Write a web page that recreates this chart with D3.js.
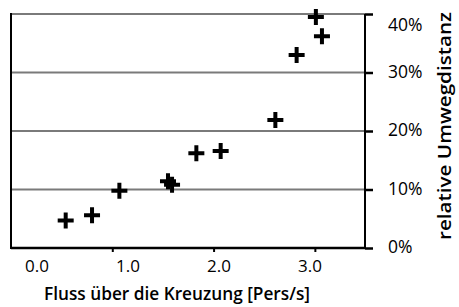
<!DOCTYPE html>
<html><head><meta charset="utf-8">
<script src="https://cdn.jsdelivr.net/npm/d3@7"></script>
<style>body{margin:0;background:#fff}text{font-family:"Open Sans",sans-serif;fill:#000}</style>
</head><body><svg id="c" width="459" height="307"></svg>
<script>
const flow = [0.54, 0.80, 1.07, 1.55, 1.59, 1.83, 2.07, 2.61, 2.82, 3.01, 3.07];
const detour = [4.7, 5.6, 9.8, 11.4, 10.8, 16.2, 16.6, 21.9, 33.0, 39.5, 36.2];
const xTicks = [0, 1, 2, 3];
const xTickLabels = ["0.0", "1.0", "2.0", "3.0"];
const yTicks = [0, 10, 20, 30, 40];
const yTickLabels = ["0%", "10%", "20%", "30%", "40%"];
const xTitle = "Fluss über die Kreuzung [Pers/s]";
const yTitle = "relative Umwegdistanz";

const svg = d3.select("#c");
const x = d3.scaleLinear().domain([0, 3.495]).range([11, 365]);
const xLab = d3.scaleLinear().domain([0, 3]).range([37, 310]);
const y = d3.scaleLinear().domain([0, 40]).range([248, 14]);

// gridlines
svg.append("g").selectAll("line").data(yTicks.filter(d => d > 0)).join("line")
  .attr("x1", 11).attr("x2", 365).attr("y1", d => y(d)).attr("y2", d => y(d))
  .attr("stroke", "#7a7a7a").attr("stroke-width", 2);

// left axis line
svg.append("line").attr("x1", 11).attr("x2", 11).attr("y1", y(40) - 1).attr("y2", y(0) + 1)
  .attr("stroke", "#000").attr("stroke-width", 2);

// bottom axis
const xa = svg.append("g").attr("transform", `translate(0,${y(0)})`)
  .call(d3.axisBottom(x).tickValues(xTicks.filter(d => d > 0)).tickSize(4).tickFormat(""));
xa.select(".domain").attr("stroke-width", 2.5).attr("d", `M${x(0)},0H${x.range()[1]}`);
xa.selectAll(".tick line").attr("stroke-width", 2);
svg.append("g").selectAll("text").data(xTicks).join("text")
  .attr("x", (d) => xLab(d)).attr("y", y(0) + 24).attr("text-anchor", "middle")
  .style("font-size", "17px").text((d, i) => xTickLabels[i]);

// right axis
const ya = svg.append("g").attr("transform", `translate(${x.range()[1]},0)`)
  .call(d3.axisRight(y).tickValues(yTicks).tickSize(8).tickFormat(""));
ya.select(".domain").attr("stroke-width", 2).attr("d", `M0,${y(40)}V${y(0) + 1}`);
ya.selectAll(".tick line").attr("stroke-width", 2.5);
svg.append("g").selectAll("text").data(yTicks).join("text")
  .attr("x", 388).attr("y", d => d === 40 ? y(d) + 17 : y(d) + 5)
  .style("font-size", "17.5px").text((d, i) => yTickLabels[i]);

// crosses
const cs = 8;
const g = svg.append("g");
flow.forEach((f, i) => {
  const cx = x(f), cy = y(detour[i]);
  g.append("path").attr("d", `M${cx - cs},${cy}H${cx + cs}M${cx},${cy - cs}V${cy + cs}`)
    .attr("stroke", "#000").attr("stroke-width", 4).attr("fill", "none");
});

// titles
svg.append("text").attr("x", 177).attr("y", 300).attr("text-anchor", "middle")
  .attr("textLength", 266).attr("lengthAdjust", "spacingAndGlyphs")
  .style("font-size", "18.5px").style("font-weight", 600).text(xTitle);
svg.append("text").attr("transform", "translate(451,126) rotate(-90)").attr("text-anchor", "middle")
  .attr("textLength", 228).attr("lengthAdjust", "spacingAndGlyphs")
  .style("font-size", "18.5px").style("font-weight", 600).text(yTitle);
</script></body></html>
